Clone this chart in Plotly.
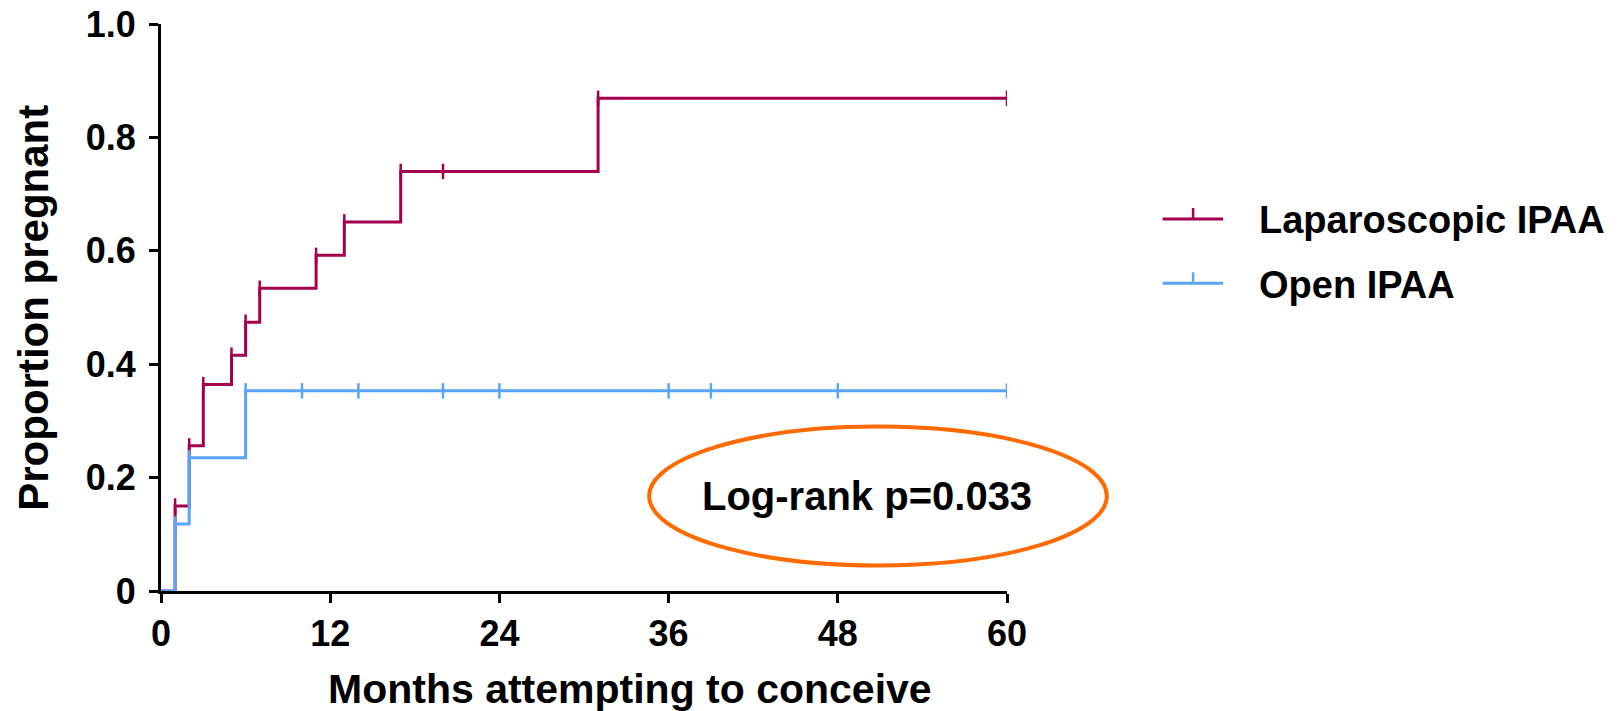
"""
Kaplan-Meier style cumulative pregnancy curves: laparoscopic vs open IPAA
"""
import plotly.graph_objects as go

# Step curve data (months, cumulative proportion pregnant)
lap_months = [0, 1, 2, 3, 5, 6, 7, 11, 13, 17, 31, 60]
lap_prop = [0, 0.150, 0.256, 0.364, 0.416, 0.474, 0.534, 0.592, 0.651, 0.740, 0.869, 0.869]

open_months = [0, 1, 2, 6, 60]
open_prop = [0, 0.118, 0.235, 0.353, 0.353]

# Censor tick positions (months) and the curve level at each
lap_censor_months = [1, 2, 3, 5, 6, 7, 11, 13, 17, 20, 31, 60]
lap_censor_prop = [0.150, 0.256, 0.364, 0.416, 0.474, 0.534, 0.592, 0.651, 0.740, 0.740, 0.869, 0.869]

open_censor_months = [1, 2, 6, 10, 14, 20, 24, 36, 39, 48, 60]
open_censor_prop = [0.118, 0.235, 0.353, 0.353, 0.353, 0.353, 0.353, 0.353, 0.353, 0.353, 0.353]

x_ticks = [0, 12, 24, 36, 48, 60]
y_ticks = [0, 0.2, 0.4, 0.6, 0.8, 1.0]
y_tick_text = ['0', '0.2', '0.4', '0.6', '0.8', '1.0']

groups = [
    ('Laparoscopic IPAA', lap_months, lap_prop, lap_censor_months, lap_censor_prop, '#A3004F'),
    ('Open IPAA', open_months, open_prop, open_censor_months, open_censor_prop, '#5AA5F5'),
]

FONT = 'Arial, Liberation Sans, sans-serif'

fig = go.Figure()

for name, xs, ys, cx, cy, color in groups:
    fig.add_trace(go.Scatter(
        x=xs, y=ys, mode='lines', name=name,
        line=dict(color=color, width=3, shape='hv'),
        showlegend=False,
    ))
    fig.add_trace(go.Scatter(
        x=cx, y=cy, mode='markers', name=name,
        marker=dict(symbol='line-ns', size=11, line=dict(color=color, width=2.5)),
        showlegend=False, hoverinfo='skip',
    ))

fig.update_layout(
    width=1619, height=711,
    margin=dict(l=161, r=612, t=24, b=120),
    plot_bgcolor='white', paper_bgcolor='white',
    font=dict(family=FONT, color='black'),
    xaxis=dict(
        range=[0, 60], tickvals=x_ticks, showgrid=False, zeroline=False,
        showline=True, linecolor='black', linewidth=3, automargin=False,
        ticks='outside', ticklen=9, tickwidth=2.5, tickcolor='black',
        tickfont=dict(size=36, weight='bold'), ticklabelstandoff=0,
    ),
    yaxis=dict(
        range=[0, 1], tickvals=y_ticks, ticktext=y_tick_text, showgrid=False, zeroline=False,
        showline=True, linecolor='black', linewidth=3, automargin=False,
        ticks='outside', ticklen=9, tickwidth=2.5, tickcolor='black',
        tickfont=dict(size=36, weight='bold'), ticklabelstandoff=6,
    ),
)

# Axis titles
fig.add_annotation(
    text='Months attempting to conceive', xref='paper', yref='paper',
    x=0.554, y=-0.172, xanchor='center', yanchor='middle', showarrow=False,
    font=dict(size=41, weight='bold'),
)
fig.add_annotation(
    text='Proportion pregnant', xref='paper', yref='paper', textangle=-90,
    x=-0.151, y=0.50, xanchor='center', yanchor='middle', showarrow=False,
    font=dict(size=42, weight='bold'),
)

# Log-rank annotation with orange ellipse
fig.add_shape(
    type='circle', xref='paper', yref='paper',
    x0=0.577, x1=1.118, y0=0.045, y1=0.290,
    line=dict(color='#FF6A00', width=4),
)
fig.add_annotation(
    text='Log-rank p=0.033', xref='paper', yref='paper',
    x=0.834, y=0.1675, xanchor='center', yanchor='middle', showarrow=False,
    font=dict(size=40, weight='bold'),
)

# Legend drawn by hand to match the original layout
legend_line_y = [0.656, 0.5427]
legend_text_y = [0.6543, 0.5402]
for (name, *_rest, color), ly, ty in zip(groups, legend_line_y, legend_text_y):
    fig.add_shape(type='line', xref='paper', yref='paper',
                  x0=1.184, x1=1.2555, y0=ly, y1=ly,
                  line=dict(color=color, width=3))
    fig.add_shape(type='line', xref='paper', yref='paper',
                  x0=1.22, x1=1.22, y0=ly, y1=ly + 0.0194,
                  line=dict(color=color, width=2.5))
    fig.add_annotation(
        text=name, xref='paper', yref='paper', x=1.2955, y=ty,
        xanchor='left', yanchor='middle', showarrow=False,
        font=dict(size=38, weight='bold'),
    )

# the page body has a default 8px margin; drop it so the figure sits at 0,0
fig.write_html(
    "out.html",
    config={'displayModeBar': False},
    post_script="document.body.style.margin='0';",
)
